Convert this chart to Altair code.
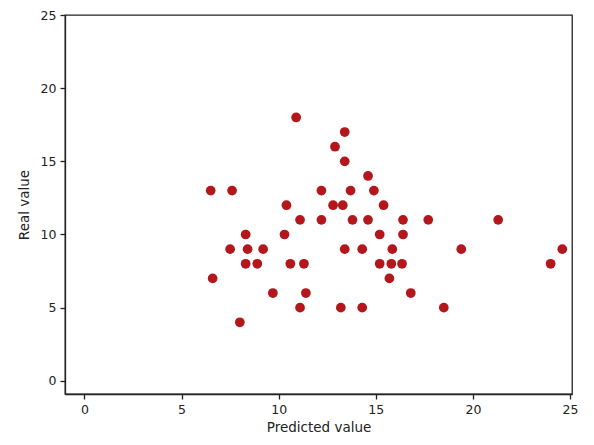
import altair as alt
import pandas as pd

predicted = [10.9, 6.5, 7.6, 10.4, 11.1, 8.3, 10.3, 7.5, 8.4, 9.2, 8.3, 8.9, 10.6, 11.3,
             6.6, 9.7, 11.4, 11.1, 8.0,
             13.4, 12.9, 13.4, 14.6, 12.2, 13.7, 14.9, 12.8, 13.3, 15.4, 12.2, 13.8, 14.6,
             16.4, 17.7, 21.3, 15.2, 16.4, 13.4, 14.3, 15.85, 19.4, 24.6, 15.2, 15.8, 16.35,
             24.0, 15.7, 16.8, 13.2, 14.3, 18.5]
real = [18, 13, 13, 12, 11, 10, 10, 9, 9, 9, 8, 8, 8, 8,
        7, 6, 6, 5, 4,
        17, 16, 15, 14, 13, 13, 13, 12, 12, 12, 11, 11, 11,
        11, 11, 11, 10, 10, 9, 9, 9, 9, 9, 8, 8, 8,
        8, 7, 6, 5, 5, 5]
ticks = [0, 5, 10, 15, 20, 25]

df = pd.DataFrame({"Predicted value": predicted, "Real value": real})

axis_common = dict(
    grid=False, domainColor="#222", domainWidth=1.3, tickColor="#222", tickSize=5,
    tickWidth=1.3, labelFont="DejaVu Sans", labelFontSize=12.5, labelColor="#222",
    titleFont="DejaVu Sans", titleFontSize=13.5, titleFontWeight="normal", titleColor="#222",
    labelPadding=4,
)

chart = alt.Chart(df).mark_circle(size=95, color="#b3161b", opacity=1).encode(
    x=alt.X("Predicted value:Q",
            scale=alt.Scale(domain=[-1, 25.1], nice=False, zero=False),
            axis=alt.Axis(values=ticks, titlePadding=5, **axis_common)),
    y=alt.Y("Real value:Q",
            scale=alt.Scale(domain=[-0.9, 25], nice=False, zero=False),
            axis=alt.Axis(values=ticks, titlePadding=9, **axis_common)),
).properties(
    width=507, height=379,
    autosize=alt.AutoSizeParams(type="none"),
    padding={"left": 57, "top": 7, "right": 14, "bottom": 45},
).configure(
    background="white",
    view=alt.ViewConfig(stroke="#222", strokeWidth=1.3),
)

chart.save("out.html", embed_options={"renderer": "svg", "actions": False})
